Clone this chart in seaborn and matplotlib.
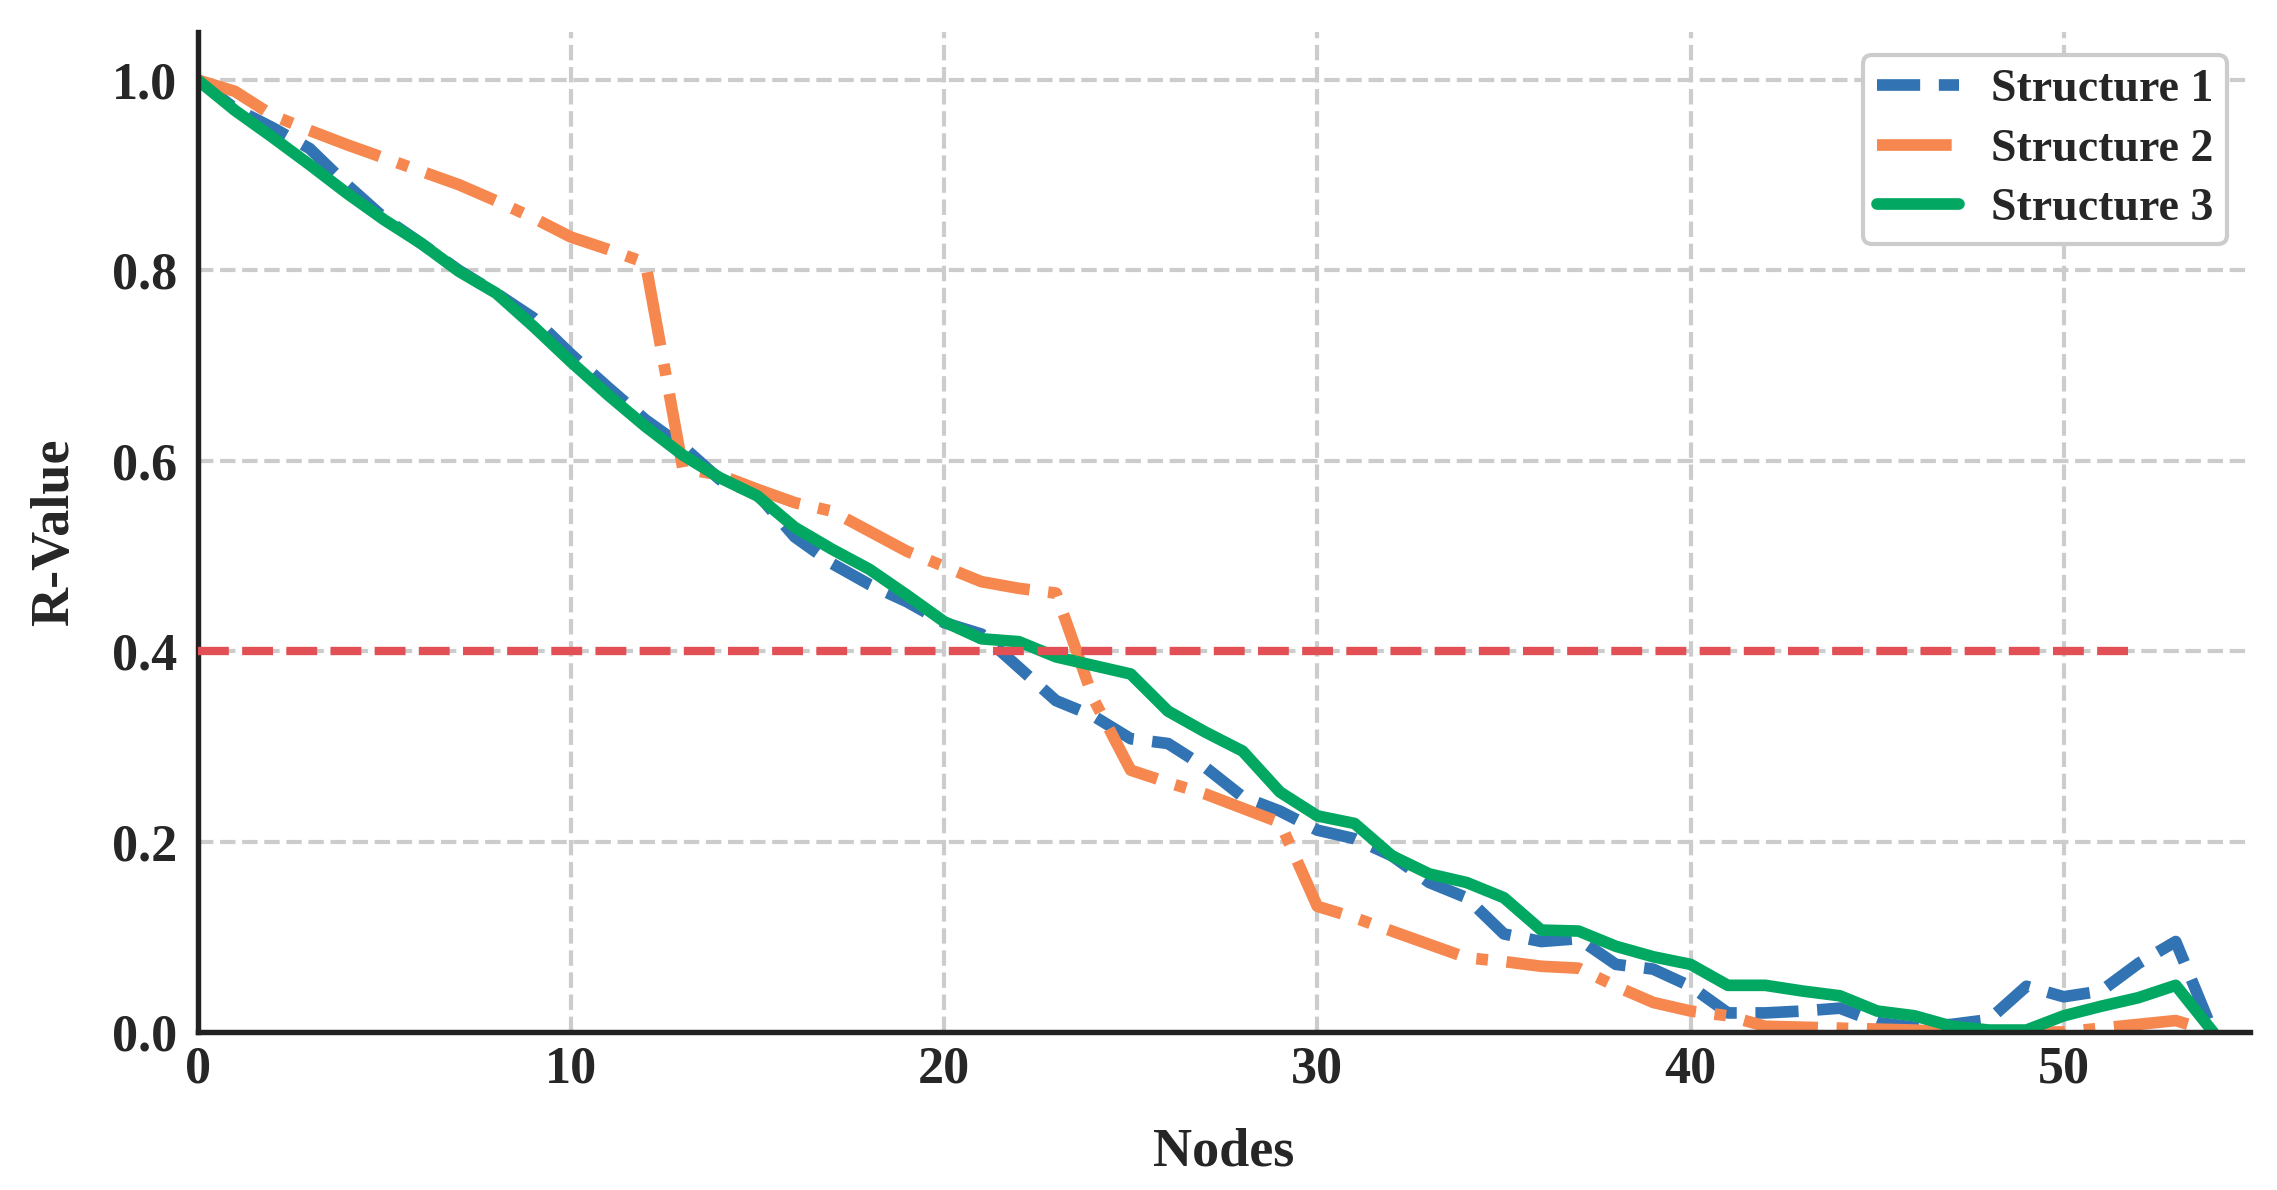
import matplotlib
matplotlib.use("Agg")
import matplotlib.pyplot as plt
import seaborn as sns
import pandas as pd

nodes = list(range(55))

structure_1 = [
    1.000, 0.970, 0.950, 0.928, 0.890, 0.855, 0.828, 0.800, 0.776, 0.750,
    0.712, 0.677, 0.643, 0.615, 0.580, 0.565, 0.520, 0.492, 0.470, 0.452,
    0.430, 0.418, 0.383, 0.348, 0.332, 0.308, 0.303, 0.278, 0.247, 0.232,
    0.212, 0.203, 0.185, 0.157, 0.141, 0.103, 0.095, 0.098, 0.071, 0.066,
    0.048, 0.020, 0.020, 0.022, 0.025, 0.010, 0.005, 0.008, 0.013, 0.048,
    0.037, 0.043, 0.072, 0.095, 0.000,
]
structure_2 = [
    1.000, 0.988, 0.963, 0.947, 0.932, 0.918, 0.904, 0.890, 0.873, 0.855,
    0.835, 0.822, 0.808, 0.592, 0.585, 0.570, 0.556, 0.547, 0.526, 0.505,
    0.489, 0.473, 0.466, 0.461, 0.350, 0.275, 0.262, 0.250, 0.235, 0.220,
    0.132, 0.120, 0.106, 0.092, 0.078, 0.074, 0.069, 0.067, 0.048, 0.031,
    0.022, 0.017, 0.006, 0.005, 0.004, 0.003, 0.002, 0.000, 0.000, 0.000,
    0.000, 0.004, 0.008, 0.012, 0.000,
]
structure_3 = [
    1.000, 0.968, 0.940, 0.911, 0.881, 0.853, 0.828, 0.799, 0.776, 0.741,
    0.704, 0.669, 0.636, 0.606, 0.582, 0.563, 0.530, 0.507, 0.486, 0.459,
    0.431, 0.413, 0.410, 0.394, 0.385, 0.376, 0.337, 0.315, 0.295, 0.252,
    0.227, 0.219, 0.185, 0.166, 0.157, 0.141, 0.107, 0.106, 0.090, 0.079,
    0.071, 0.049, 0.049, 0.043, 0.038, 0.022, 0.017, 0.006, 0.002, 0.002,
    0.017, 0.027, 0.036, 0.049, 0.000,
]

threshold = 0.4
threshold_end = 52

x_ticks = [0, 10, 20, 30, 40, 50]
y_ticks = [0.0, 0.2, 0.4, 0.6, 0.8, 1.0]

colors = {
    "blue": "#3173b3",
    "orange": "#f5874f",
    "green": "#02a862",
    "red": "#e25055",
}

sns.set_theme(style="whitegrid")
plt.rcParams["font.family"] = ["Liberation Serif", "DejaVu Serif"]
plt.rcParams["font.weight"] = "bold"
plt.rcParams["axes.labelweight"] = "bold"

df = pd.DataFrame({
    "Nodes": nodes,
    "Structure 1": structure_1,
    "Structure 2": structure_2,
    "Structure 3": structure_3,
})

fig = plt.figure(figsize=(2277 / 300, 1190 / 300), dpi=300)
ax = fig.add_axes([0.0868, 0.1328, 0.9015, 0.840])

sns.lineplot(data=df, x="Nodes", y="Structure 1", ax=ax, color=colors["blue"],
             linewidth=2.8, linestyle="--", label="Structure 1")
sns.lineplot(data=df, x="Nodes", y="Structure 2", ax=ax, color=colors["orange"],
             linewidth=2.8, linestyle="-.", label="Structure 2")
sns.lineplot(data=df, x="Nodes", y="Structure 3", ax=ax, color=colors["green"],
             linewidth=2.8, linestyle="-", solid_capstyle="round",
             label="Structure 3")
ax.hlines(threshold, 0, threshold_end, colors=colors["red"], linewidth=2,
          linestyles="--", zorder=3)

ax.set_xlim(0, 55)
ax.set_ylim(0, 1.05)
ax.set_xticks(x_ticks)
ax.set_yticks(y_ticks)
ax.set_yticklabels([f"{v:.1f}" for v in y_ticks])
ax.tick_params(axis="both", labelsize=12.5, length=0)
ax.tick_params(axis="x", pad=3.3)
ax.tick_params(axis="y", pad=5)
for lab in ax.get_xticklabels() + ax.get_yticklabels():
    lab.set_fontweight("bold")

ax.set_xlabel("Nodes", fontsize=13, fontweight="bold", labelpad=8)
ax.set_ylabel("R-Value", fontsize=13, fontweight="bold", labelpad=7.5)

ax.grid(True, linestyle="--", color="#cccccc", linewidth=1.0)
for side in ["top", "right"]:
    ax.spines[side].set_visible(False)
for side in ["left", "bottom"]:
    ax.spines[side].set_color("#222222")
    ax.spines[side].set_linewidth(1.3)

leg = ax.legend(loc="upper right", frameon=True, framealpha=1,
                edgecolor="#cccccc", prop={"weight": "bold", "size": 11},
                handlelength=1.8, handletextpad=0.7, labelspacing=0.38,
                borderpad=0.3)
leg.get_frame().set_linewidth(1.0)

plt.savefig("out.png", dpi=300)
plt.close()
